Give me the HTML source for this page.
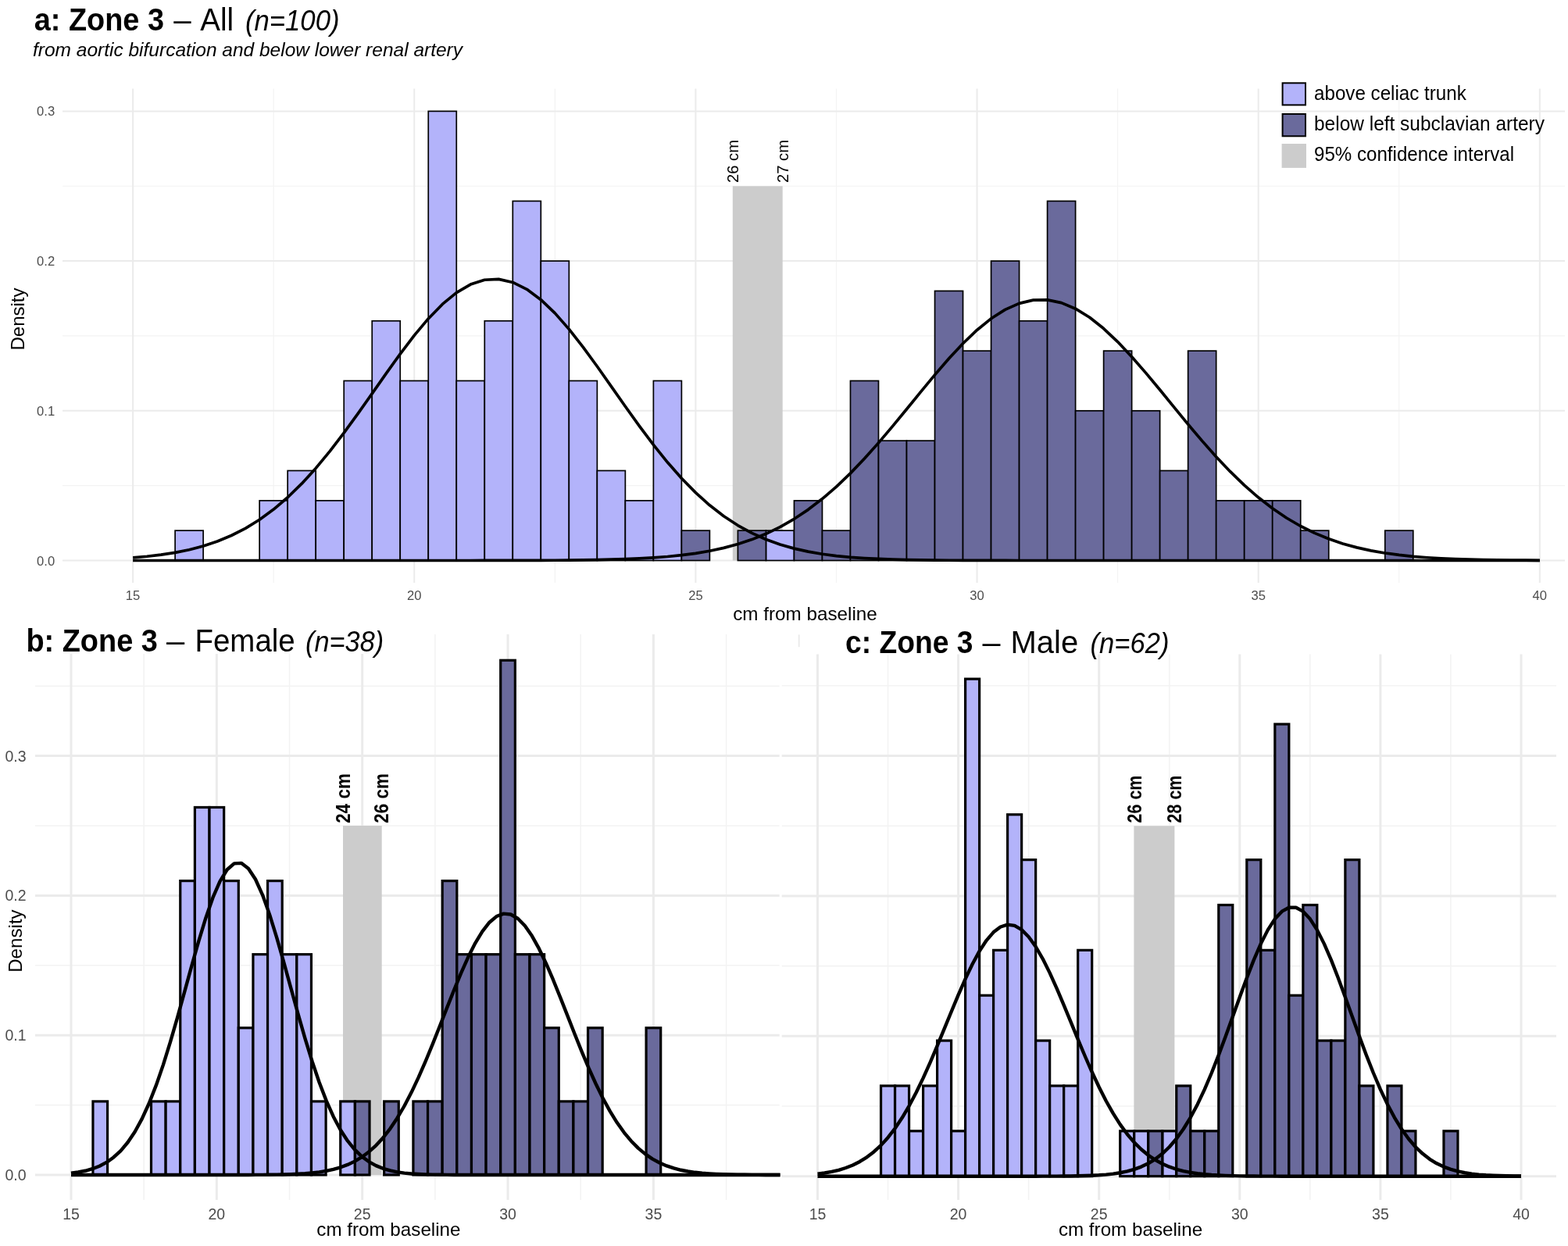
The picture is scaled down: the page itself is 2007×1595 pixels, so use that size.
<!DOCTYPE html>
<html><head><meta charset="utf-8"><title>Zone 3 histograms</title>
<style>html,body{margin:0;padding:0;background:#fff;}svg{display:block;}</style>
</head><body>
<svg width="2007" height="1595" viewBox="0 0 2007 1595" font-family="'Liberation Sans', sans-serif"><line x1="350.17" y1="113.5" x2="350.17" y2="746" stroke="#f3f3f3" stroke-width="1.2"/>
<line x1="710.33" y1="113.5" x2="710.33" y2="746" stroke="#f3f3f3" stroke-width="1.2"/>
<line x1="1070.47" y1="113.5" x2="1070.47" y2="746" stroke="#f3f3f3" stroke-width="1.2"/>
<line x1="1430.62" y1="113.5" x2="1430.62" y2="746" stroke="#f3f3f3" stroke-width="1.2"/>
<line x1="1790.77" y1="113.5" x2="1790.77" y2="746" stroke="#f3f3f3" stroke-width="1.2"/>
<line x1="80" y1="621.65" x2="2003" y2="621.65" stroke="#f3f3f3" stroke-width="1.2"/>
<line x1="80" y1="429.95" x2="2003" y2="429.95" stroke="#f3f3f3" stroke-width="1.2"/>
<line x1="80" y1="238.25" x2="2003" y2="238.25" stroke="#f3f3f3" stroke-width="1.2"/>
<line x1="170.1" y1="113.5" x2="170.1" y2="746" stroke="#ebebeb" stroke-width="2"/>
<line x1="530.25" y1="113.5" x2="530.25" y2="746" stroke="#ebebeb" stroke-width="2"/>
<line x1="890.4" y1="113.5" x2="890.4" y2="746" stroke="#ebebeb" stroke-width="2"/>
<line x1="1250.55" y1="113.5" x2="1250.55" y2="746" stroke="#ebebeb" stroke-width="2"/>
<line x1="1610.7" y1="113.5" x2="1610.7" y2="746" stroke="#ebebeb" stroke-width="2"/>
<line x1="1970.85" y1="113.5" x2="1970.85" y2="746" stroke="#ebebeb" stroke-width="2"/>
<line x1="80" y1="717.5" x2="2003" y2="717.5" stroke="#ebebeb" stroke-width="2"/>
<line x1="80" y1="525.8" x2="2003" y2="525.8" stroke="#ebebeb" stroke-width="2"/>
<line x1="80" y1="334.1" x2="2003" y2="334.1" stroke="#ebebeb" stroke-width="2"/>
<line x1="80" y1="142.4" x2="2003" y2="142.4" stroke="#ebebeb" stroke-width="2"/>
<rect x="937.8" y="238.25" width="63.9" height="479.25" fill="#cccccc"/>
<g fill="#b3b3fa" stroke="#000" stroke-width="1.7"><rect x="224.12" y="679.16" width="36.01" height="38.34"/><rect x="332.17" y="640.82" width="36.01" height="76.68"/><rect x="368.18" y="602.48" width="36.01" height="115.02"/><rect x="404.2" y="640.82" width="36.01" height="76.68"/><rect x="440.21" y="487.46" width="36.01" height="230.04"/><rect x="476.23" y="410.78" width="36.01" height="306.72"/><rect x="512.24" y="487.46" width="36.02" height="230.04"/><rect x="548.26" y="142.4" width="36.01" height="575.1"/><rect x="584.27" y="487.46" width="36.01" height="230.04"/><rect x="620.29" y="410.78" width="36.01" height="306.72"/><rect x="656.3" y="257.42" width="36.01" height="460.08"/><rect x="692.32" y="334.1" width="36.01" height="383.4"/><rect x="728.33" y="487.46" width="36.02" height="230.04"/><rect x="764.35" y="602.48" width="36.01" height="115.02"/><rect x="800.36" y="640.82" width="36.01" height="76.68"/><rect x="836.38" y="487.46" width="36.01" height="230.04"/><rect x="980.44" y="679.16" width="36.01" height="38.34"/></g>
<g fill="#6a6a9c" stroke="#000" stroke-width="1.7"><rect x="872.39" y="679.16" width="36.01" height="38.34"/><rect x="944.42" y="679.16" width="36.01" height="38.34"/><rect x="1016.45" y="640.82" width="36.01" height="76.68"/><rect x="1052.47" y="679.16" width="36.02" height="38.34"/><rect x="1088.48" y="487.46" width="36.01" height="230.04"/><rect x="1124.5" y="564.14" width="36.02" height="153.36"/><rect x="1160.51" y="564.14" width="36.01" height="153.36"/><rect x="1196.53" y="372.44" width="36.02" height="345.06"/><rect x="1232.54" y="449.12" width="36.01" height="268.38"/><rect x="1268.56" y="334.1" width="36.02" height="383.4"/><rect x="1304.57" y="410.78" width="36.01" height="306.72"/><rect x="1340.59" y="257.42" width="36.02" height="460.08"/><rect x="1376.6" y="525.8" width="36.01" height="191.7"/><rect x="1412.62" y="449.12" width="36.02" height="268.38"/><rect x="1448.63" y="525.8" width="36.02" height="191.7"/><rect x="1484.65" y="602.48" width="36.01" height="115.02"/><rect x="1520.66" y="449.12" width="36.02" height="268.38"/><rect x="1556.68" y="640.82" width="36.01" height="76.68"/><rect x="1592.69" y="640.82" width="36.02" height="76.68"/><rect x="1628.71" y="640.82" width="36.01" height="76.68"/><rect x="1664.72" y="679.16" width="36.02" height="38.34"/><rect x="1772.77" y="679.16" width="36.02" height="38.34"/></g>
<polyline points="170.1,713.79 188.11,712.24 206.12,710.14 224.12,707.35 242.13,703.69 260.14,698.97 278.14,692.98 296.15,685.51 314.16,676.32 332.17,665.23 350.17,652.07 368.18,636.73 386.19,619.16 404.2,599.42 422.21,577.67 440.21,554.19 458.22,529.41 476.23,503.85 494.24,478.16 512.24,453.08 530.25,429.4 548.26,407.92 566.26,389.43 584.27,374.62 602.28,364.09 620.29,358.25 638.29,357.35 656.3,361.43 674.31,370.31 692.32,383.64 710.33,400.88 728.33,421.37 746.34,444.35 764.35,469.02 782.36,494.58 800.36,520.27 818.37,545.4 836.38,569.4 854.38,591.81 872.39,612.3 890.4,630.66 908.41,646.8 926.42,660.74 944.42,672.56 962.43,682.41 980.44,690.47 998.45,696.97 1016.45,702.13 1034.46,706.14 1052.47,709.23 1070.47,711.56 1088.48,713.29 1106.49,714.56 1124.5,715.47 1142.5,716.12 1160.51,716.58 1178.52,716.89 1196.53,717.1 1214.53,717.24 1232.54,717.34 1250.55,717.4 1268.56,717.44 1286.56,717.46 1304.57,717.48 1322.58,717.49 1340.59,717.49 1358.6,717.5 1376.6,717.5 1394.61,717.5 1412.62,717.5 1430.62,717.5 1448.63,717.5 1466.64,717.5 1484.65,717.5 1502.65,717.5 1520.66,717.5 1538.67,717.5 1556.68,717.5 1574.68,717.5 1592.69,717.5 1610.7,717.5 1628.71,717.5 1646.71,717.5 1664.72,717.5 1682.73,717.5 1700.74,717.5 1718.74,717.5 1736.75,717.5 1754.76,717.5 1772.77,717.5 1790.77,717.5 1808.78,717.5 1826.79,717.5 1844.8,717.5 1862.8,717.5 1880.81,717.5 1898.82,717.5 1916.83,717.5 1934.84,717.5 1952.84,717.5 1970.85,717.5" fill="none" stroke="#000" stroke-width="3.7" stroke-linejoin="round"/>
<polyline points="170.1,717.5 188.11,717.5 206.12,717.5 224.12,717.5 242.13,717.5 260.14,717.5 278.14,717.5 296.15,717.5 314.16,717.5 332.17,717.5 350.17,717.5 368.18,717.5 386.19,717.5 404.2,717.5 422.21,717.5 440.21,717.5 458.22,717.5 476.23,717.5 494.24,717.5 512.24,717.5 530.25,717.5 548.26,717.5 566.26,717.49 584.27,717.49 602.28,717.48 620.29,717.47 638.29,717.45 656.3,717.43 674.31,717.38 692.32,717.32 710.33,717.23 728.33,717.09 746.34,716.9 764.35,716.62 782.36,716.22 800.36,715.67 818.37,714.91 836.38,713.89 854.38,712.51 872.39,710.69 890.4,708.32 908.41,705.28 926.42,701.41 944.42,696.57 962.43,690.6 980.44,683.34 998.45,674.63 1016.45,664.33 1034.46,652.34 1052.47,638.59 1070.47,623.08 1088.48,605.86 1106.49,587.05 1124.5,566.89 1142.5,545.67 1160.51,523.78 1178.52,501.69 1196.53,479.93 1214.53,459.08 1232.54,439.73 1250.55,422.46 1268.56,407.83 1286.56,396.33 1304.57,388.35 1322.58,384.16 1340.59,383.92 1358.6,387.64 1376.6,395.18 1394.61,406.28 1412.62,420.55 1430.62,437.53 1448.63,456.67 1466.64,477.37 1484.65,499.05 1502.65,521.13 1520.66,543.07 1538.67,564.39 1556.68,584.7 1574.68,603.68 1592.69,621.1 1610.7,636.83 1628.71,650.78 1646.71,662.98 1664.72,673.48 1682.73,682.37 1700.74,689.8 1718.74,695.92 1736.75,700.88 1754.76,704.86 1772.77,708 1790.77,710.44 1808.78,712.32 1826.79,713.74 1844.8,714.81 1862.8,715.59 1880.81,716.16 1898.82,716.58 1916.83,716.87 1934.84,717.07 1952.84,717.22 1970.85,717.31" fill="none" stroke="#000" stroke-width="3.7" stroke-linejoin="round"/>
<line x1="184.18" y1="812" x2="184.18" y2="1536" stroke="#f3f3f3" stroke-width="1.6"/>
<line x1="370.53" y1="812" x2="370.53" y2="1536" stroke="#f3f3f3" stroke-width="1.6"/>
<line x1="556.88" y1="812" x2="556.88" y2="1536" stroke="#f3f3f3" stroke-width="1.6"/>
<line x1="743.23" y1="812" x2="743.23" y2="1536" stroke="#f3f3f3" stroke-width="1.6"/>
<line x1="929.58" y1="812" x2="929.58" y2="1536" stroke="#f3f3f3" stroke-width="1.6"/>
<line x1="45" y1="1414.6" x2="997.7" y2="1414.6" stroke="#f3f3f3" stroke-width="1.6"/>
<line x1="45" y1="1235.8" x2="997.7" y2="1235.8" stroke="#f3f3f3" stroke-width="1.6"/>
<line x1="45" y1="1057" x2="997.7" y2="1057" stroke="#f3f3f3" stroke-width="1.6"/>
<line x1="45" y1="878.2" x2="997.7" y2="878.2" stroke="#f3f3f3" stroke-width="1.6"/>
<line x1="91" y1="812" x2="91" y2="1536" stroke="#ebebeb" stroke-width="3"/>
<line x1="277.35" y1="812" x2="277.35" y2="1536" stroke="#ebebeb" stroke-width="3"/>
<line x1="463.7" y1="812" x2="463.7" y2="1536" stroke="#ebebeb" stroke-width="3"/>
<line x1="650.05" y1="812" x2="650.05" y2="1536" stroke="#ebebeb" stroke-width="3"/>
<line x1="836.4" y1="812" x2="836.4" y2="1536" stroke="#ebebeb" stroke-width="3"/>
<line x1="45" y1="1504" x2="997.7" y2="1504" stroke="#ebebeb" stroke-width="3"/>
<line x1="45" y1="1325.2" x2="997.7" y2="1325.2" stroke="#ebebeb" stroke-width="3"/>
<line x1="45" y1="1146.4" x2="997.7" y2="1146.4" stroke="#ebebeb" stroke-width="3"/>
<line x1="45" y1="967.6" x2="997.7" y2="967.6" stroke="#ebebeb" stroke-width="3"/>
<rect x="28" y="800" width="468" height="37" fill="#fff"/>
<rect x="439" y="1057" width="49.7" height="447" fill="#cccccc"/>
<g fill="#b3b3fa" stroke="#000" stroke-width="3.2"><rect x="118.95" y="1409.89" width="18.64" height="94.11"/><rect x="193.49" y="1409.89" width="18.63" height="94.11"/><rect x="212.13" y="1409.89" width="18.64" height="94.11"/><rect x="230.76" y="1127.58" width="18.63" height="376.42"/><rect x="249.4" y="1033.47" width="18.64" height="470.53"/><rect x="268.03" y="1033.47" width="18.63" height="470.53"/><rect x="286.67" y="1127.58" width="18.63" height="376.42"/><rect x="305.3" y="1315.79" width="18.63" height="188.21"/><rect x="323.94" y="1221.68" width="18.63" height="282.32"/><rect x="342.57" y="1127.58" width="18.64" height="376.42"/><rect x="361.21" y="1221.68" width="18.63" height="282.32"/><rect x="379.84" y="1221.68" width="18.63" height="282.32"/><rect x="398.48" y="1409.89" width="18.63" height="94.11"/><rect x="435.75" y="1409.89" width="18.64" height="94.11"/></g>
<g fill="#6a6a9c" stroke="#000" stroke-width="3.2"><rect x="454.38" y="1409.89" width="18.63" height="94.11"/><rect x="491.65" y="1409.89" width="18.63" height="94.11"/><rect x="528.92" y="1409.89" width="18.64" height="94.11"/><rect x="547.56" y="1409.89" width="18.63" height="94.11"/><rect x="566.19" y="1127.58" width="18.63" height="376.42"/><rect x="584.83" y="1221.68" width="18.63" height="282.32"/><rect x="603.46" y="1221.68" width="18.63" height="282.32"/><rect x="622.1" y="1221.68" width="18.63" height="282.32"/><rect x="640.73" y="845.26" width="18.63" height="658.74"/><rect x="659.37" y="1221.68" width="18.63" height="282.32"/><rect x="678" y="1221.68" width="18.63" height="282.32"/><rect x="696.64" y="1315.79" width="18.63" height="188.21"/><rect x="715.27" y="1409.89" width="18.63" height="94.11"/><rect x="733.91" y="1409.89" width="18.63" height="94.11"/><rect x="752.54" y="1315.79" width="18.63" height="188.21"/><rect x="827.08" y="1315.79" width="18.63" height="188.21"/></g>
<polyline points="91,1501.74 100.08,1500.53 109.15,1498.76 118.23,1496.24 127.3,1492.73 136.38,1487.92 145.45,1481.48 154.53,1473.04 163.6,1462.24 172.68,1448.7 181.75,1432.12 190.83,1412.29 199.9,1389.17 208.98,1362.86 218.05,1333.72 227.13,1302.36 236.2,1269.64 245.28,1236.63 254.35,1204.61 263.43,1174.93 272.5,1148.99 281.58,1128.07 290.66,1113.27 299.73,1105.38 308.81,1104.84 317.88,1111.68 326.96,1125.51 336.03,1145.6 345.11,1170.88 354.18,1200.1 363.26,1231.87 372.33,1264.82 381.41,1297.66 390.48,1329.27 399.56,1358.77 408.63,1385.52 417.71,1409.13 426.78,1429.43 435.86,1446.47 444.93,1460.44 454.01,1471.62 463.09,1480.38 472.16,1487.09 481.24,1492.11 490.31,1495.8 499.39,1498.45 508.46,1500.31 517.54,1501.59 526.61,1502.46 535.69,1503.03 544.76,1503.4 553.84,1503.64 562.91,1503.78 571.99,1503.87 581.06,1503.93 590.14,1503.96 599.21,1503.98 608.29,1503.99 617.36,1503.99 626.44,1504 635.51,1504 644.59,1504 653.67,1504 662.74,1504 671.82,1504 680.89,1504 689.97,1504 699.04,1504 708.12,1504 717.19,1504 726.27,1504 735.34,1504 744.42,1504 753.49,1504 762.57,1504 771.64,1504 780.72,1504 789.79,1504 798.87,1504 807.94,1504 817.02,1504 826.09,1504 835.17,1504 844.25,1504 853.32,1504 862.4,1504 871.47,1504 880.55,1504 889.62,1504 898.7,1504 907.77,1504 916.85,1504 925.92,1504 935,1504 944.07,1504 953.15,1504 962.22,1504 971.3,1504 980.37,1504 989.45,1504 998.52,1504" fill="none" stroke="#000" stroke-width="4.4" stroke-linejoin="round"/>
<polyline points="91,1504 100.08,1504 109.15,1504 118.23,1504 127.3,1504 136.38,1504 145.45,1504 154.53,1504 163.6,1504 172.68,1504 181.75,1504 190.83,1504 199.9,1504 208.98,1504 218.05,1504 227.13,1504 236.2,1504 245.28,1504 254.35,1504 263.43,1504 272.5,1504 281.58,1503.99 290.66,1503.99 299.73,1503.98 308.81,1503.96 317.88,1503.94 326.96,1503.9 336.03,1503.84 345.11,1503.76 354.18,1503.63 363.26,1503.44 372.33,1503.16 381.41,1502.76 390.48,1502.19 399.56,1501.4 408.63,1500.32 417.71,1498.84 426.78,1496.88 435.86,1494.28 444.93,1490.92 454.01,1486.62 463.09,1481.2 472.16,1474.48 481.24,1466.28 490.31,1456.43 499.39,1444.78 508.46,1431.23 517.54,1415.74 526.61,1398.34 535.69,1379.15 544.76,1358.38 553.84,1336.37 562.91,1313.52 571.99,1290.37 581.06,1267.51 590.14,1245.6 599.21,1225.31 608.29,1207.33 617.36,1192.28 626.44,1180.71 635.51,1173.06 644.59,1169.62 653.67,1170.51 662.74,1175.72 671.82,1185.03 680.89,1198.1 689.97,1214.43 699.04,1233.45 708.12,1254.49 717.19,1276.87 726.27,1299.93 735.34,1323.02 744.42,1345.58 753.49,1367.13 762.57,1387.27 771.64,1405.75 780.72,1422.37 789.79,1437.05 798.87,1449.81 807.94,1460.7 817.02,1469.86 826.09,1477.42 835.17,1483.58 844.25,1488.52 853.32,1492.41 862.4,1495.44 871.47,1497.76 880.55,1499.51 889.62,1500.81 898.7,1501.76 907.77,1502.45 916.85,1502.94 925.92,1503.29 935,1503.52 944.07,1503.69 953.15,1503.8 962.22,1503.87 971.3,1503.92 980.37,1503.95 989.45,1503.97 998.52,1503.98" fill="none" stroke="#000" stroke-width="4.4" stroke-linejoin="round"/>
<line x1="1136.55" y1="837.5" x2="1136.55" y2="1536" stroke="#f3f3f3" stroke-width="1.6"/>
<line x1="1316.65" y1="837.5" x2="1316.65" y2="1536" stroke="#f3f3f3" stroke-width="1.6"/>
<line x1="1496.75" y1="837.5" x2="1496.75" y2="1536" stroke="#f3f3f3" stroke-width="1.6"/>
<line x1="1676.85" y1="837.5" x2="1676.85" y2="1536" stroke="#f3f3f3" stroke-width="1.6"/>
<line x1="1856.95" y1="837.5" x2="1856.95" y2="1536" stroke="#f3f3f3" stroke-width="1.6"/>
<line x1="1000.7" y1="1416" x2="1992" y2="1416" stroke="#f3f3f3" stroke-width="1.6"/>
<line x1="1000.7" y1="1236.6" x2="1992" y2="1236.6" stroke="#f3f3f3" stroke-width="1.6"/>
<line x1="1000.7" y1="1057.2" x2="1992" y2="1057.2" stroke="#f3f3f3" stroke-width="1.6"/>
<line x1="1000.7" y1="877.8" x2="1992" y2="877.8" stroke="#f3f3f3" stroke-width="1.6"/>
<line x1="1046.5" y1="837.5" x2="1046.5" y2="1536" stroke="#ebebeb" stroke-width="3"/>
<line x1="1226.6" y1="837.5" x2="1226.6" y2="1536" stroke="#ebebeb" stroke-width="3"/>
<line x1="1406.7" y1="837.5" x2="1406.7" y2="1536" stroke="#ebebeb" stroke-width="3"/>
<line x1="1586.8" y1="837.5" x2="1586.8" y2="1536" stroke="#ebebeb" stroke-width="3"/>
<line x1="1766.9" y1="837.5" x2="1766.9" y2="1536" stroke="#ebebeb" stroke-width="3"/>
<line x1="1947" y1="837.5" x2="1947" y2="1536" stroke="#ebebeb" stroke-width="3"/>
<line x1="1000.7" y1="1505.7" x2="1992" y2="1505.7" stroke="#ebebeb" stroke-width="3"/>
<line x1="1000.7" y1="1326.3" x2="1992" y2="1326.3" stroke="#ebebeb" stroke-width="3"/>
<line x1="1000.7" y1="1146.9" x2="1992" y2="1146.9" stroke="#ebebeb" stroke-width="3"/>
<line x1="1000.7" y1="967.5" x2="1992" y2="967.5" stroke="#ebebeb" stroke-width="3"/>
<rect x="1451.4" y="1057.2" width="52" height="448.5" fill="#cccccc"/>
<g fill="#b3b3fa" stroke="#000" stroke-width="3.2"><rect x="1127.55" y="1389.96" width="18.01" height="115.74"/><rect x="1145.56" y="1389.96" width="18.01" height="115.74"/><rect x="1163.57" y="1447.83" width="18.01" height="57.87"/><rect x="1181.58" y="1389.96" width="18.01" height="115.74"/><rect x="1199.59" y="1332.09" width="18.01" height="173.61"/><rect x="1217.6" y="1447.83" width="18.01" height="57.87"/><rect x="1235.61" y="869.12" width="18.01" height="636.58"/><rect x="1253.62" y="1274.22" width="18.01" height="231.48"/><rect x="1271.62" y="1216.35" width="18.01" height="289.35"/><rect x="1289.63" y="1042.73" width="18.01" height="462.97"/><rect x="1307.64" y="1100.6" width="18.01" height="405.1"/><rect x="1325.65" y="1332.09" width="18.01" height="173.61"/><rect x="1343.66" y="1389.96" width="18.01" height="115.74"/><rect x="1361.67" y="1389.96" width="18.01" height="115.74"/><rect x="1379.68" y="1216.35" width="18.01" height="289.35"/><rect x="1433.72" y="1447.83" width="18.01" height="57.87"/><rect x="1451.72" y="1447.83" width="18.01" height="57.87"/><rect x="1487.75" y="1447.83" width="18.01" height="57.87"/></g>
<g fill="#6a6a9c" stroke="#000" stroke-width="3.2"><rect x="1469.74" y="1447.83" width="18.01" height="57.87"/><rect x="1505.76" y="1389.96" width="18.01" height="115.74"/><rect x="1523.77" y="1447.83" width="18.01" height="57.87"/><rect x="1541.78" y="1447.83" width="18.01" height="57.87"/><rect x="1559.79" y="1158.47" width="18.01" height="347.23"/><rect x="1595.81" y="1100.6" width="18.01" height="405.1"/><rect x="1613.82" y="1216.35" width="18.01" height="289.35"/><rect x="1631.83" y="926.99" width="18.01" height="578.71"/><rect x="1649.84" y="1274.22" width="18.01" height="231.48"/><rect x="1667.85" y="1158.47" width="18.01" height="347.23"/><rect x="1685.86" y="1332.09" width="18.01" height="173.61"/><rect x="1703.87" y="1332.09" width="18.01" height="173.61"/><rect x="1721.88" y="1100.6" width="18.01" height="405.1"/><rect x="1739.89" y="1389.96" width="18.01" height="115.74"/><rect x="1775.91" y="1389.96" width="18.01" height="115.74"/><rect x="1793.91" y="1447.83" width="18.01" height="57.87"/><rect x="1847.95" y="1447.83" width="18.01" height="57.87"/></g>
<polyline points="1046.5,1502.72 1055.51,1501.52 1064.51,1499.91 1073.52,1497.79 1082.52,1495.02 1091.53,1491.47 1100.53,1486.97 1109.54,1481.36 1118.54,1474.46 1127.55,1466.12 1136.55,1456.18 1145.56,1444.52 1154.56,1431.07 1163.57,1415.81 1172.57,1398.79 1181.58,1380.14 1190.58,1360.09 1199.59,1338.97 1208.59,1317.19 1217.6,1295.25 1226.6,1273.7 1235.61,1253.16 1244.61,1234.27 1253.62,1217.63 1262.62,1203.82 1271.62,1193.32 1280.63,1186.52 1289.63,1183.68 1298.64,1184.9 1307.64,1190.14 1316.65,1199.19 1325.65,1211.74 1334.66,1227.31 1343.66,1245.37 1352.67,1265.33 1361.67,1286.55 1370.68,1308.4 1379.68,1330.32 1388.69,1351.75 1397.7,1372.27 1406.7,1391.51 1415.7,1409.21 1424.71,1425.18 1433.72,1439.36 1442.72,1451.73 1451.72,1462.34 1460.73,1471.31 1469.74,1478.76 1478.74,1484.87 1487.75,1489.79 1496.75,1493.7 1505.76,1496.77 1514.76,1499.13 1523.77,1500.93 1532.77,1502.28 1541.78,1503.28 1550.78,1504.01 1559.79,1504.53 1568.79,1504.91 1577.8,1505.17 1586.8,1505.34 1595.81,1505.47 1604.81,1505.55 1613.82,1505.6 1622.82,1505.64 1631.83,1505.66 1640.83,1505.68 1649.84,1505.69 1658.84,1505.69 1667.85,1505.69 1676.85,1505.7 1685.86,1505.7 1694.86,1505.7 1703.87,1505.7 1712.87,1505.7 1721.88,1505.7 1730.88,1505.7 1739.89,1505.7 1748.89,1505.7 1757.89,1505.7 1766.9,1505.7 1775.91,1505.7 1784.91,1505.7 1793.91,1505.7 1802.92,1505.7 1811.93,1505.7 1820.93,1505.7 1829.93,1505.7 1838.94,1505.7 1847.95,1505.7 1856.95,1505.7 1865.95,1505.7 1874.96,1505.7 1883.97,1505.7 1892.97,1505.7 1901.97,1505.7 1910.98,1505.7 1919.99,1505.7 1928.99,1505.7 1938,1505.7 1947,1505.7" fill="none" stroke="#000" stroke-width="4.4" stroke-linejoin="round"/>
<polyline points="1046.5,1505.7 1055.51,1505.7 1064.51,1505.7 1073.52,1505.7 1082.52,1505.7 1091.53,1505.7 1100.53,1505.7 1109.54,1505.7 1118.54,1505.7 1127.55,1505.7 1136.55,1505.7 1145.56,1505.7 1154.56,1505.7 1163.57,1505.7 1172.57,1505.7 1181.58,1505.7 1190.58,1505.7 1199.59,1505.7 1208.59,1505.7 1217.6,1505.7 1226.6,1505.7 1235.61,1505.7 1244.61,1505.7 1253.62,1505.7 1262.62,1505.7 1271.62,1505.7 1280.63,1505.7 1289.63,1505.7 1298.64,1505.7 1307.64,1505.69 1316.65,1505.69 1325.65,1505.68 1334.66,1505.66 1343.66,1505.64 1352.67,1505.6 1361.67,1505.54 1370.68,1505.44 1379.68,1505.29 1388.69,1505.07 1397.7,1504.74 1406.7,1504.26 1415.7,1503.57 1424.71,1502.6 1433.72,1501.24 1442.72,1499.39 1451.72,1496.9 1460.73,1493.59 1469.74,1489.29 1478.74,1483.77 1487.75,1476.82 1496.75,1468.22 1505.76,1457.75 1514.76,1445.24 1523.77,1430.56 1532.77,1413.67 1541.78,1394.6 1550.78,1373.5 1559.79,1350.66 1568.79,1326.49 1577.8,1301.53 1586.8,1276.44 1595.81,1251.97 1604.81,1228.92 1613.82,1208.13 1622.82,1190.38 1631.83,1176.37 1640.83,1166.69 1649.84,1161.74 1658.84,1161.74 1667.85,1166.69 1676.85,1176.37 1685.86,1190.38 1694.86,1208.13 1703.87,1228.92 1712.87,1251.97 1721.88,1276.44 1730.88,1301.53 1739.89,1326.49 1748.89,1350.66 1757.89,1373.5 1766.9,1394.6 1775.91,1413.67 1784.91,1430.56 1793.91,1445.24 1802.92,1457.75 1811.93,1468.22 1820.93,1476.82 1829.93,1483.77 1838.94,1489.29 1847.95,1493.59 1856.95,1496.9 1865.95,1499.39 1874.96,1501.24 1883.97,1502.6 1892.97,1503.57 1901.97,1504.26 1910.98,1504.74 1919.99,1505.07 1928.99,1505.29 1938,1505.44 1947,1505.54" fill="none" stroke="#000" stroke-width="4.4" stroke-linejoin="round"/>
<line x1="1022.7" y1="812.4" x2="1022.7" y2="828.2" stroke="#ebebeb" stroke-width="2"/>
<text x="70.2" y="723.5" font-size="16.6" fill="#4d4d4d" text-anchor="end">0.0</text>
<text x="70.2" y="531.8" font-size="16.6" fill="#4d4d4d" text-anchor="end">0.1</text>
<text x="70.2" y="340.1" font-size="16.6" fill="#4d4d4d" text-anchor="end">0.2</text>
<text x="70.2" y="148.4" font-size="16.6" fill="#4d4d4d" text-anchor="end">0.3</text>
<text x="170.1" y="768.2" font-size="16.6" fill="#4d4d4d" text-anchor="middle">15</text>
<text x="530.25" y="768.2" font-size="16.6" fill="#4d4d4d" text-anchor="middle">20</text>
<text x="890.4" y="768.2" font-size="16.6" fill="#4d4d4d" text-anchor="middle">25</text>
<text x="1250.55" y="768.2" font-size="16.6" fill="#4d4d4d" text-anchor="middle">30</text>
<text x="1610.7" y="768.2" font-size="16.6" fill="#4d4d4d" text-anchor="middle">35</text>
<text x="1970.85" y="768.2" font-size="16.6" fill="#4d4d4d" text-anchor="middle">40</text>
<text x="1030.5" y="793.8" font-size="24" fill="#000" textLength="184.6" lengthAdjust="spacingAndGlyphs" text-anchor="middle">cm from baseline</text>
<text x="30.9" y="408.5" font-size="24" fill="#000" textLength="80" lengthAdjust="spacingAndGlyphs" transform="rotate(-90 30.9 408.5)" text-anchor="middle">Density</text>
<text x="33.6" y="1511" font-size="19.5" fill="#4d4d4d" text-anchor="end">0.0</text>
<text x="33.6" y="1332.2" font-size="19.5" fill="#4d4d4d" text-anchor="end">0.1</text>
<text x="33.6" y="1153.4" font-size="19.5" fill="#4d4d4d" text-anchor="end">0.2</text>
<text x="33.6" y="974.6" font-size="19.5" fill="#4d4d4d" text-anchor="end">0.3</text>
<text x="91" y="1561.4" font-size="19.5" fill="#4d4d4d" text-anchor="middle">15</text>
<text x="277.35" y="1561.4" font-size="19.5" fill="#4d4d4d" text-anchor="middle">20</text>
<text x="463.7" y="1561.4" font-size="19.5" fill="#4d4d4d" text-anchor="middle">25</text>
<text x="650.05" y="1561.4" font-size="19.5" fill="#4d4d4d" text-anchor="middle">30</text>
<text x="836.4" y="1561.4" font-size="19.5" fill="#4d4d4d" text-anchor="middle">35</text>
<text x="497.4" y="1581.6" font-size="24" fill="#000" textLength="184.2" lengthAdjust="spacingAndGlyphs" text-anchor="middle">cm from baseline</text>
<text x="28.3" y="1204.6" font-size="24" fill="#000" textLength="80.5" lengthAdjust="spacingAndGlyphs" transform="rotate(-90 28.3 1204.6)" text-anchor="middle">Density</text>
<text x="1046.5" y="1561.4" font-size="19.5" fill="#4d4d4d" text-anchor="middle">15</text>
<text x="1226.6" y="1561.4" font-size="19.5" fill="#4d4d4d" text-anchor="middle">20</text>
<text x="1406.7" y="1561.4" font-size="19.5" fill="#4d4d4d" text-anchor="middle">25</text>
<text x="1586.8" y="1561.4" font-size="19.5" fill="#4d4d4d" text-anchor="middle">30</text>
<text x="1766.9" y="1561.4" font-size="19.5" fill="#4d4d4d" text-anchor="middle">35</text>
<text x="1947" y="1561.4" font-size="19.5" fill="#4d4d4d" text-anchor="middle">40</text>
<text x="1447" y="1581.6" font-size="24" fill="#000" textLength="184.2" lengthAdjust="spacingAndGlyphs" text-anchor="middle">cm from baseline</text>
<text x="945.1" y="233.9" font-size="21" fill="#000" textLength="54.9" lengthAdjust="spacingAndGlyphs" transform="rotate(-90 945.1 233.9)">26 cm</text>
<text x="1009.3" y="233.9" font-size="21" fill="#000" textLength="54.9" lengthAdjust="spacingAndGlyphs" transform="rotate(-90 1009.3 233.9)">27 cm</text>
<text x="447.9" y="1053.7" font-size="25" fill="#000" textLength="63.6" lengthAdjust="spacingAndGlyphs" transform="rotate(-90 447.9 1053.7)" font-weight="bold">24 cm</text>
<text x="497.5" y="1053.7" font-size="25" fill="#000" textLength="63.6" lengthAdjust="spacingAndGlyphs" transform="rotate(-90 497.5 1053.7)" font-weight="bold">26 cm</text>
<text x="1461.1" y="1053.4" font-size="25" fill="#000" textLength="60.8" lengthAdjust="spacingAndGlyphs" transform="rotate(-90 1461.1 1053.4)" font-weight="bold">26 cm</text>
<text x="1512.5" y="1053.4" font-size="25" fill="#000" textLength="60.8" lengthAdjust="spacingAndGlyphs" transform="rotate(-90 1512.5 1053.4)" font-weight="bold">28 cm</text>
<text x="43.8" y="39.2" font-size="40" fill="#000" textLength="166.2" lengthAdjust="spacingAndGlyphs" font-weight="bold">a: Zone 3</text>
<text x="222.3" y="39.2" font-size="40" fill="#000" textLength="22.4" lengthAdjust="spacingAndGlyphs">–</text>
<text x="256.3" y="39.2" font-size="40" fill="#000" textLength="42.8" lengthAdjust="spacingAndGlyphs">All</text>
<text x="314" y="39.2" font-size="36.5" fill="#000" textLength="120.5" lengthAdjust="spacingAndGlyphs" font-style="italic">(n=100)</text>
<text x="42" y="71.6" font-size="24" fill="#000" textLength="550" lengthAdjust="spacingAndGlyphs" font-style="italic">from aortic bifurcation and below lower renal artery</text>
<text x="33.4" y="834.1" font-size="40" fill="#000" textLength="168.5" lengthAdjust="spacingAndGlyphs" font-weight="bold">b: Zone 3</text>
<text x="212.9" y="834.1" font-size="40" fill="#000" textLength="23.2" lengthAdjust="spacingAndGlyphs">–</text>
<text x="249.5" y="834.1" font-size="40" fill="#000" textLength="128.2" lengthAdjust="spacingAndGlyphs">Female</text>
<text x="391.1" y="834.1" font-size="36.5" fill="#000" textLength="100.1" lengthAdjust="spacingAndGlyphs" font-style="italic">(n=38)</text>
<text x="1082" y="836.2" font-size="40" fill="#000" textLength="163.4" lengthAdjust="spacingAndGlyphs" font-weight="bold">c: Zone 3</text>
<text x="1257.5" y="836.2" font-size="40" fill="#000" textLength="23" lengthAdjust="spacingAndGlyphs">–</text>
<text x="1293.6" y="836.2" font-size="40" fill="#000" textLength="86.6" lengthAdjust="spacingAndGlyphs">Male</text>
<text x="1395.6" y="836.2" font-size="36.5" fill="#000" textLength="100.8" lengthAdjust="spacingAndGlyphs" font-style="italic">(n=62)</text>
<rect x="1641.6" y="106.3" width="29.4" height="28.1" fill="#b3b3fa" stroke="#000" stroke-width="2"/>
<rect x="1641.6" y="145.9" width="29.4" height="28.4" fill="#6a6a9c" stroke="#000" stroke-width="2"/>
<rect x="1640.6" y="184" width="31.4" height="30.9" fill="#cccccc"/>
<text x="1682" y="128" font-size="25" fill="#000" textLength="194.8" lengthAdjust="spacingAndGlyphs">above celiac trunk</text>
<text x="1682" y="166.8" font-size="25" fill="#000" textLength="295" lengthAdjust="spacingAndGlyphs">below left subclavian artery</text>
<text x="1682" y="206.2" font-size="25" fill="#000" textLength="256" lengthAdjust="spacingAndGlyphs">95% confidence interval</text></svg>
</body></html>
